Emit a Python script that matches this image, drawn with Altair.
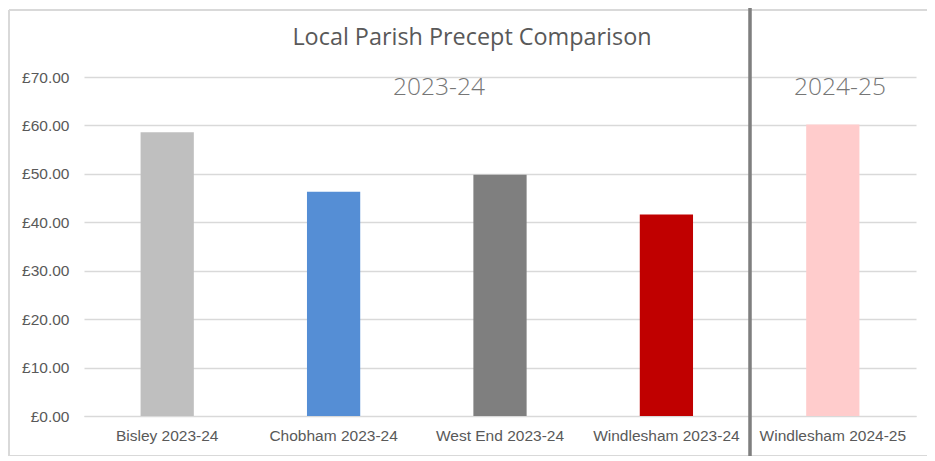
import altair as alt
import pandas as pd

categories = ["Bisley 2023-24", "Chobham 2023-24", "West End 2023-24",
              "Windlesham 2023-24", "Windlesham 2024-25"]
values = [58.6, 46.3, 49.8, 41.6, 60.2]
colors = ["#bfbfbf", "#558ed5", "#7f7f7f", "#c00000", "#ffcccc"]
y_ticks = [0, 10, 20, 30, 40, 50, 60, 70]
period_labels = ["2023-24", "2024-25"]
chart_title = "Local Parish Precept Comparison"

df = pd.DataFrame({"cat": categories, "val": values, "col": colors})

W, H = 832, 339
LABEL_FONT = "Liberation Sans Narrow, Liberation Sans, sans-serif"

x = alt.X("cat:N", sort=categories, title=None,
          scale=alt.Scale(paddingInner=0.68, paddingOuter=0.34),
          axis=alt.Axis(labelAngle=0, ticks=False, domainColor="#d9d9d9",
                        labelColor="#595959", labelFontSize=15.5, labelFont=LABEL_FONT,
                        labelPadding=12, grid=False))
y = alt.Y("val:Q", title=None,
          scale=alt.Scale(domain=[0, 70], nice=False),
          axis=alt.Axis(values=y_ticks, ticks=False, domain=False,
                        labelExpr="'£' + format(datum.value, '.2f')",
                        labelColor="#595959", labelFontSize=15.5, labelFont=LABEL_FONT,
                        labelPadding=15, gridColor="#d9d9d9", gridWidth=1.3))

BORDER = dict(color="#d9d9d9", strokeWidth=1.5)
b_top = alt.Chart(df).mark_rule(**BORDER).encode(
    x=alt.value(-75), x2=alt.value(W + 40), y=alt.value(-67))
b_bottom = alt.Chart(df).mark_rule(**BORDER).encode(
    x=alt.value(-75), x2=alt.value(W + 40), y=alt.value(H + 40))
b_left = alt.Chart(df).mark_rule(**BORDER).encode(
    x=alt.value(-75), y=alt.value(-67), y2=alt.value(H + 40))

bars = alt.Chart(df).mark_bar().encode(
    x=x, y=y, color=alt.Color("col:N", scale=None))

sep = alt.Chart(df).mark_rule(color="#7f7f7f", strokeWidth=2.5).encode(
    x=alt.value(666), y=alt.value(-69), y2=alt.value(H + 50))

title = alt.Chart(pd.DataFrame({"t": [chart_title]})).mark_text(
    fontSize=23.4, color="#595959", font="Open Sans").encode(
    text="t:N", x=alt.value(388), y=alt.value(-39))

t1 = alt.Chart(pd.DataFrame({"t": [period_labels[0]]})).mark_text(
    fontSize=24.5, color="#767676", font="Open Sans", fontWeight=300).encode(
    text="t:N", x=alt.value(355), y=alt.value(11))
t2 = alt.Chart(pd.DataFrame({"t": [period_labels[1]]})).mark_text(
    fontSize=24.5, color="#767676", font="Open Sans", fontWeight=300).encode(
    text="t:N", x=alt.value(756), y=alt.value(11))

chart = alt.layer(b_top, b_bottom, b_left, bars, sep, title, t1, t2).properties(
    width=W, height=H,
    autosize=alt.AutoSizeParams(type="none"),
    padding={"left": 76, "top": 69, "right": 11, "bottom": 40},
).configure_view(stroke=None)

chart.save("out.html", embed_options={"renderer": "svg", "actions": False})
